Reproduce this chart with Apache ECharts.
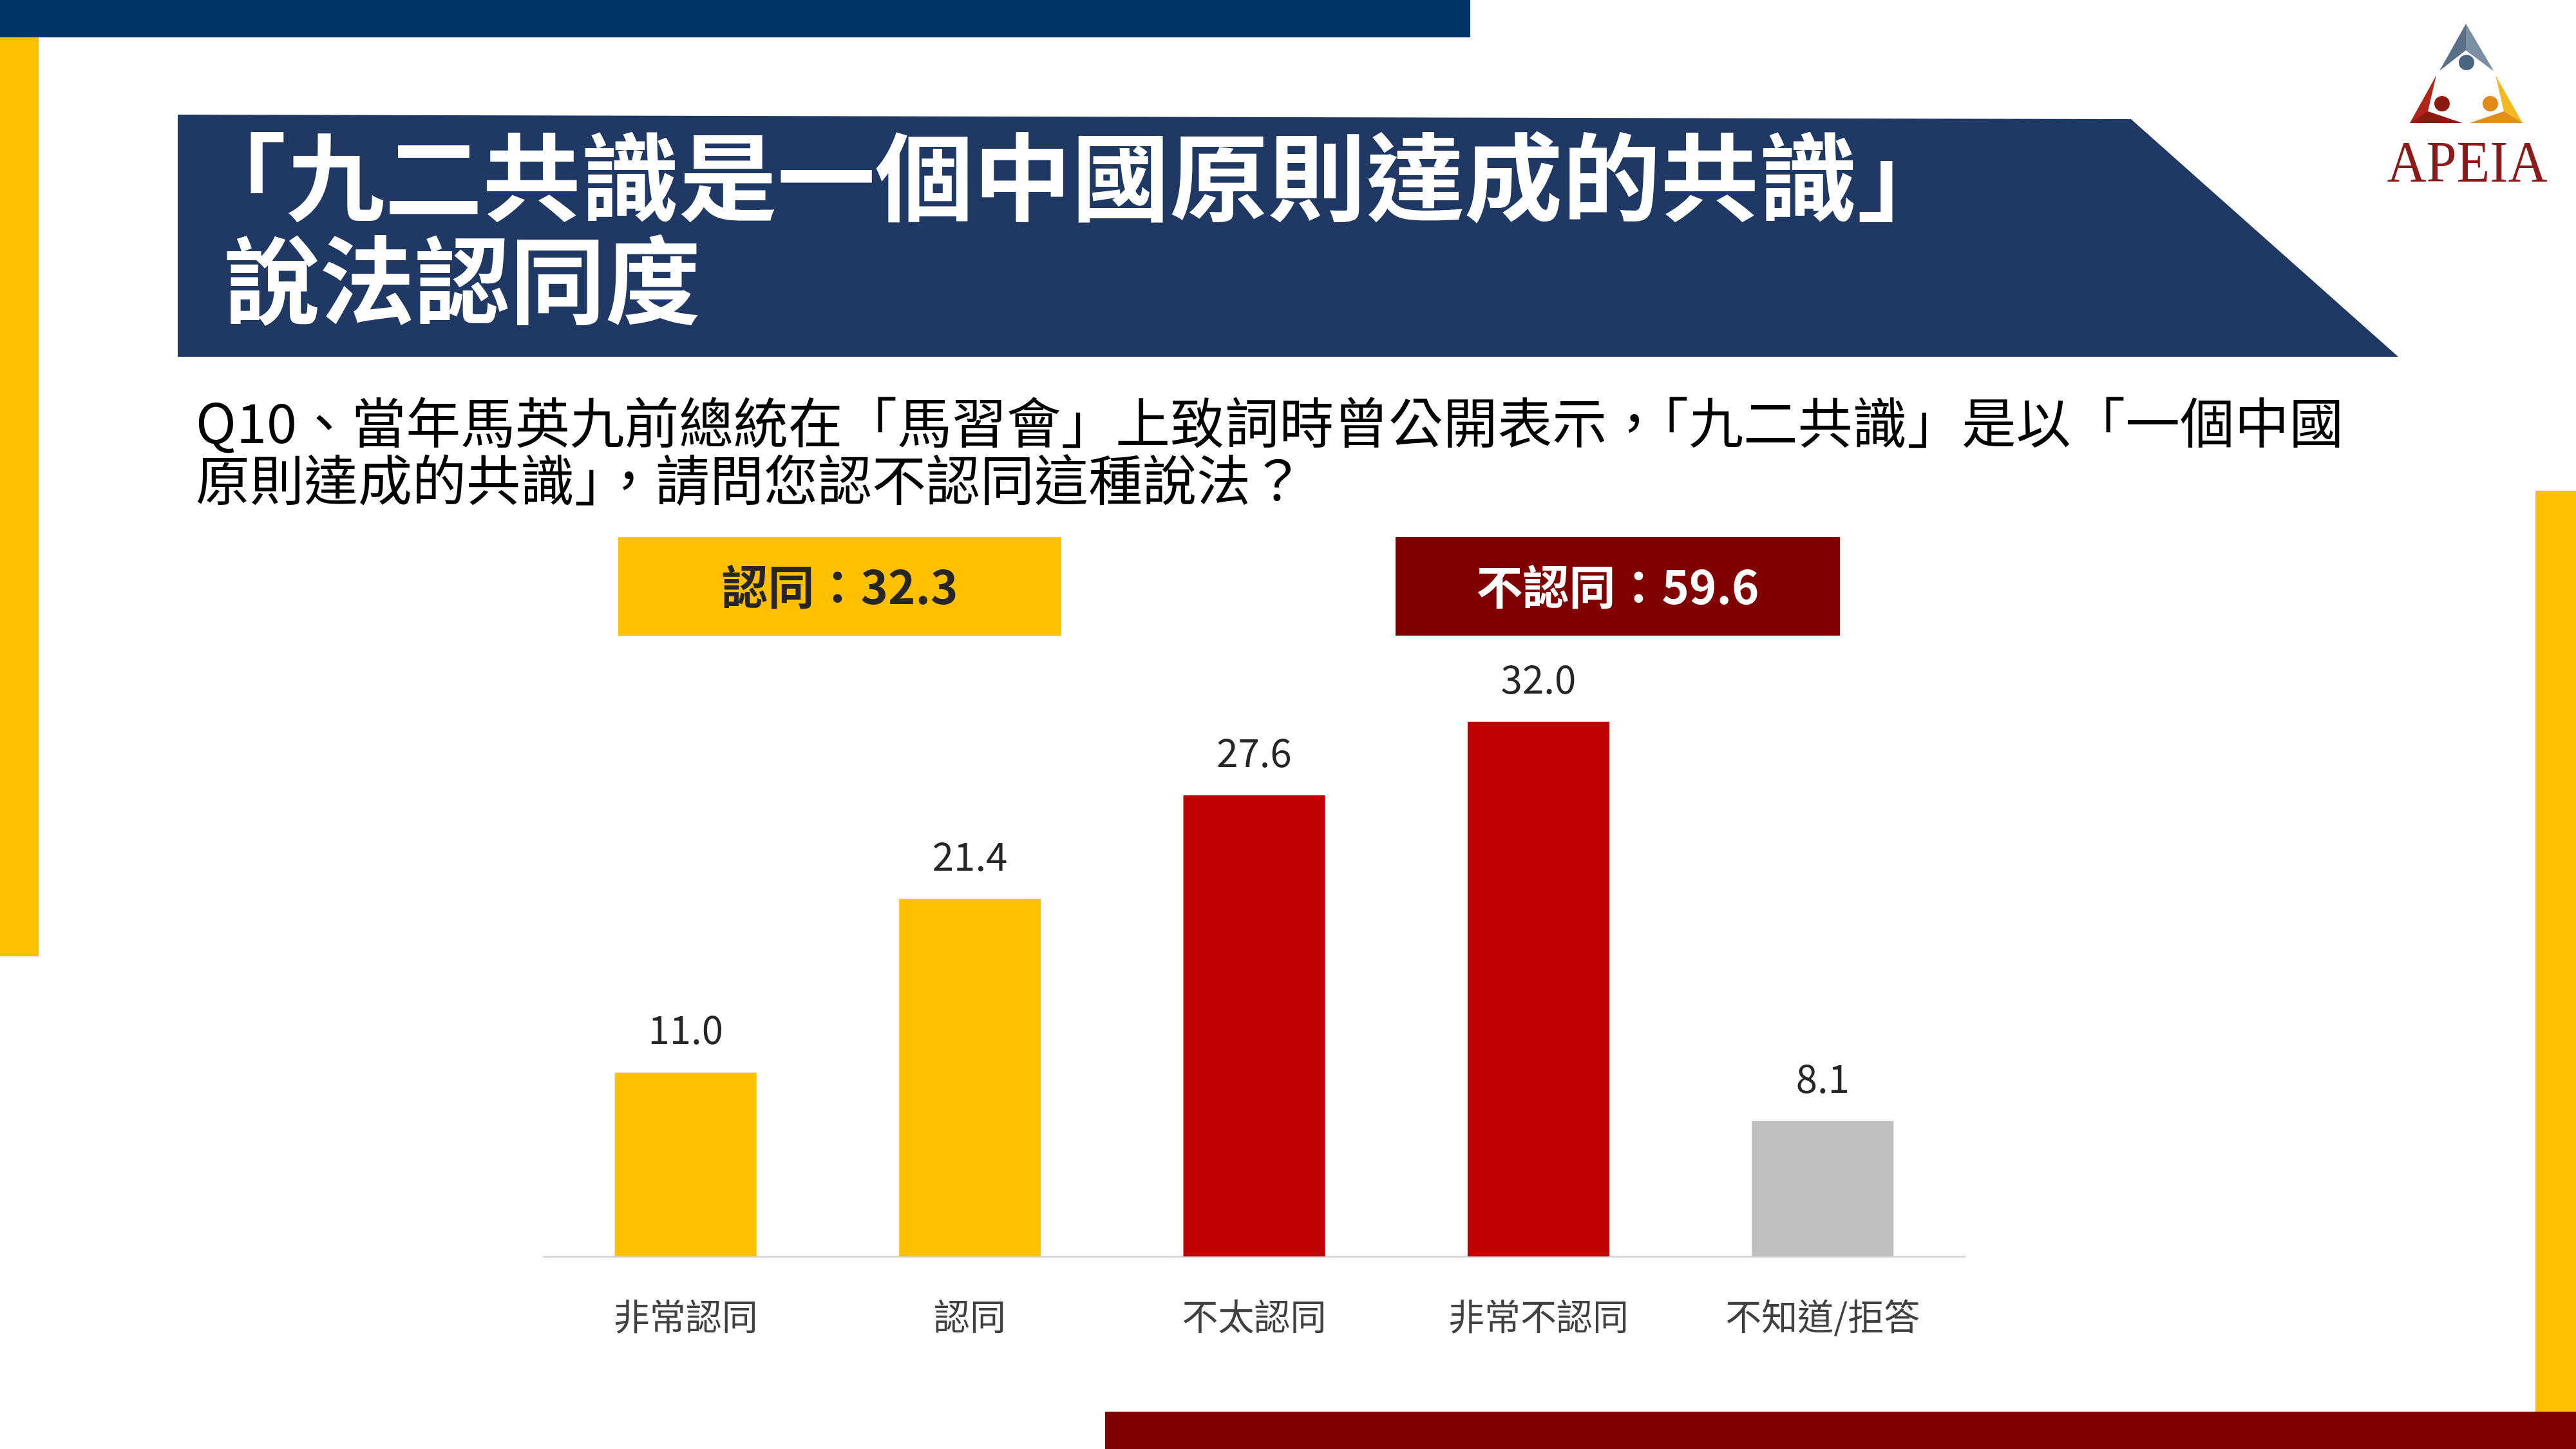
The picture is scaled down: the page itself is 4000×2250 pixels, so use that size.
<!DOCTYPE html>
<html>
<head>
<meta charset="utf-8">
<script src="https://cdn.jsdelivr.net/npm/echarts@6/dist/echarts.min.js"></script>
<style>
html,body{margin:0;padding:0;background:#fff;}
#chart{width:4000px;height:2250px;}
</style>
</head>
<body>
<div id="chart"></div>
<script>
// ---- data ----
const categories = ['非常認同', '認同', '不太認同', '非常不認同', '不知道/拒答'];
const values = [11.0, 21.4, 27.6, 32.0, 8.1];
const summaryLabels = ['認同', '不認同'];
const summaryValues = [32.3, 59.6];
const titleLines = ['「九二共識是一個中國原則達成的共識」', '說法認同度'];
const questionLines = ['Q10、當年馬英九前總統在「馬習會」上致詞時曾公開表示，「九二共識」是以「一個中國', '原則達成的共識」，請問您認不認同這種說法？'];

// ---- styles ----
const barColors = ['#FFC000', '#FFC000', '#C00000', '#C00000', '#BFBFBF'];
const FONT = '"Noto Sans CJK TC", "Noto Sans", sans-serif';

const chart = echarts.init(document.getElementById('chart'), null, {renderer: 'canvas'});

const graphics = [
  // top navy bar
  {type: 'rect', shape: {x: 0, y: 0, width: 2283, height: 58}, style: {fill: '#003366'}},
  // left yellow bar
  {type: 'rect', shape: {x: 0, y: 58, width: 60, height: 1427}, style: {fill: '#FFC000'}},
  // right yellow bar
  {type: 'rect', shape: {x: 3937, y: 762, width: 63, height: 1430}, style: {fill: '#FFC000'}},
  // bottom dark red bar
  {type: 'rect', shape: {x: 1716, y: 2192, width: 2284, height: 58}, style: {fill: '#800000'}},
  // title banner
  {type: 'polygon', shape: {points: [[276, 178], [3309, 185], [3724, 554], [276, 554]]}, style: {fill: '#1F3864'}},
  {type: 'text', x: 292, y: 275, scaleX: 1.03, style: {text: titleLines[0], font: 'bold 148px ' + FONT, fill: '#FFFFFF', verticalAlign: 'middle'}},
  {type: 'text', x: 348, y: 435, style: {text: titleLines[1], font: 'bold 148px ' + FONT, fill: '#FFFFFF', verticalAlign: 'middle'}},
  // question
  {type: 'text', x: 304, y: 656, scaleX: 1.009, style: {text: questionLines[0], font: '84px ' + FONT, fill: '#000000', verticalAlign: 'middle'}},
  {type: 'text', x: 304, y: 745, style: {text: questionLines[1], font: '84px ' + FONT, fill: '#000000', verticalAlign: 'middle'}},
  // summary boxes
  {type: 'rect', shape: {x: 960, y: 834, width: 688, height: 153}, style: {fill: '#FFC000'}},
  {type: 'text', x: 1304, y: 911, style: {text: summaryLabels[0] + '：' + summaryValues[0].toFixed(1), font: 'bold 72px ' + FONT, fill: '#262626', align: 'center', verticalAlign: 'middle'}},
  {type: 'rect', shape: {x: 2167, y: 834, width: 690, height: 153}, style: {fill: '#800000'}},
  {type: 'text', x: 2512, y: 911, style: {text: summaryLabels[1] + '：' + summaryValues[1].toFixed(1), font: 'bold 72px ' + FONT, fill: '#FFFFFF', align: 'center', verticalAlign: 'middle'}},
  // logo
  {type: 'polygon', shape: {points: [[3829, 37], [3872, 110], [3829, 78], [3788, 110]]}, style: {fill: '#5A7088'}},
  {type: 'polygon', shape: {points: [[3829, 37], [3872, 110], [3829, 78]]}, style: {fill: '#7A8FA3'}},
  {type: 'circle', shape: {cx: 3830, cy: 97, r: 12}, style: {fill: '#4A6580'}},
  {type: 'polygon', shape: {points: [[3783, 117], [3742, 191], [3823, 191], [3770, 173]]}, style: {fill: '#B0241A'}},
  {type: 'polygon', shape: {points: [[3770, 173], [3742, 191], [3823, 191]]}, style: {fill: '#8B1A10'}},
  {type: 'circle', shape: {cx: 3792, cy: 161, r: 12}, style: {fill: '#8B1A10'}},
  {type: 'polygon', shape: {points: [[3875, 117], [3917, 191], [3835, 191], [3888, 173]]}, style: {fill: '#F5B820'}},
  {type: 'polygon', shape: {points: [[3888, 173], [3917, 191], [3835, 191]]}, style: {fill: '#E0901A'}},
  {type: 'circle', shape: {cx: 3867, cy: 161, r: 12}, style: {fill: '#E08A1A'}},
  {type: 'text', x: 3831, y: 258, scaleX: 0.92, style: {text: 'APEIA', font: '92px "Liberation Serif", "DejaVu Serif", serif', fill: '#8B1A1A', align: 'center', verticalAlign: 'middle'}}
];

const option = {
  backgroundColor: '#FFFFFF',
  animation: false,
  graphic: graphics,
  grid: {left: 844, right: 949, top: 1043, bottom: 299, containLabel: false},
  xAxis: {
    type: 'category',
    data: categories,
    axisLine: {show: true, lineStyle: {color: '#D9D9D9', width: 3}},
    axisTick: {show: false},
    axisLabel: {fontSize: 56, color: '#404040', margin: 65, fontFamily: FONT, interval: 0}
  },
  yAxis: {type: 'value', min: 0, max: 35, show: false, splitLine: {show: false}},
  series: [{
    type: 'bar',
    barWidth: 220,
    data: values.map((v, i) => ({value: v, itemStyle: {color: barColors[i]}})),
    label: {
      show: true,
      position: 'top',
      distance: 37,
      fontSize: 60,
      color: '#262626',
      fontFamily: FONT,
      formatter: p => p.value.toFixed(1)
    }
  }]
};
chart.setOption(option);
</script>
</body>
</html>
